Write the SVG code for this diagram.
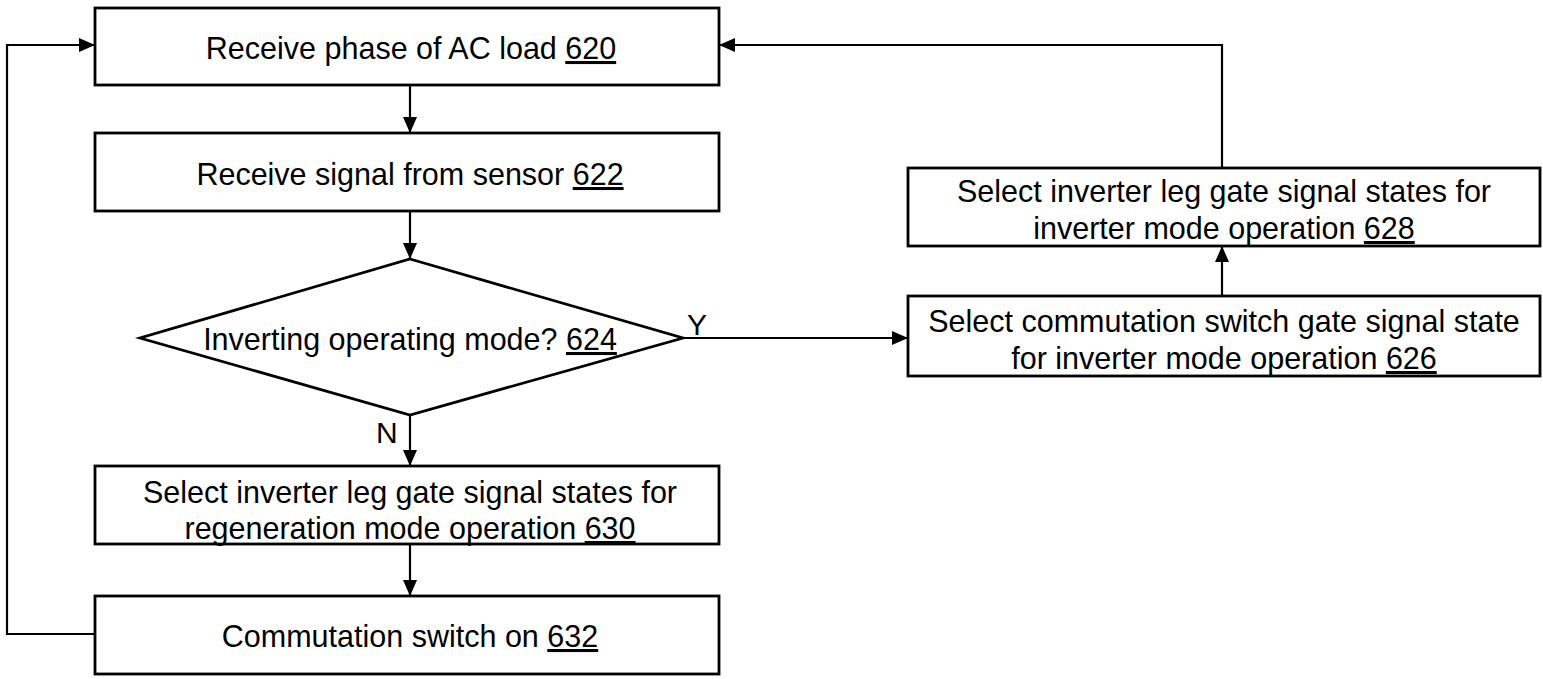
<svg xmlns="http://www.w3.org/2000/svg" width="1543" height="679" viewBox="0 0 1543 679">
<style>
.box{fill:#fff;stroke:#000;stroke-width:2.8}
.ln{fill:none;stroke:#000;stroke-width:2.2}
.t{font-family:"Liberation Sans",Arial,sans-serif;font-size:30.5px;fill:#000;text-anchor:middle}
.lbl{font-family:"Liberation Sans",Arial,sans-serif;font-size:30px;fill:#000}
.u{text-decoration:underline}
</style>
<defs>
<marker id="ah" viewBox="0 0 16 14" refX="16" refY="7" markerWidth="16" markerHeight="14" markerUnits="userSpaceOnUse" orient="auto">
<path d="M0,0 L16,7 L0,14 Z" fill="#000"/>
</marker>
</defs>
<rect width="1543" height="679" fill="#fff"/>
<g id="connectors">
<line class="ln" x1="410" y1="85" x2="410" y2="133" marker-end="url(#ah)"/>
<line class="ln" x1="410" y1="211" x2="410" y2="259" marker-end="url(#ah)"/>
<line class="ln" x1="683" y1="338" x2="908" y2="338" marker-end="url(#ah)"/>
<line class="ln" x1="1222" y1="296" x2="1222" y2="246" marker-end="url(#ah)"/>
<polyline class="ln" points="1222,168 1222,45 719,45" marker-end="url(#ah)"/>
<line class="ln" x1="410" y1="415" x2="410" y2="466" marker-end="url(#ah)"/>
<line class="ln" x1="410" y1="544" x2="410" y2="596" marker-end="url(#ah)"/>
<polyline class="ln" points="95,634 7,634 7,45 95,45" marker-end="url(#ah)"/>
<text class="lbl" x="687" y="335">Y</text>
<text class="lbl" x="376" y="443">N</text>
</g>
<g id="n620">
<rect class="box" x="95" y="8" width="624" height="77"/>
<text class="t" x="411" y="59">Receive phase of AC load <tspan class="u">620</tspan></text>
</g>
<g id="n622">
<rect class="box" x="95" y="133" width="624" height="78"/>
<text class="t" x="410" y="185">Receive signal from sensor <tspan class="u">622</tspan></text>
</g>
<g id="n624">
<polygon class="box" points="410,259 683,338 410,415 140,338"/>
<text class="t" x="410" y="350">Inverting operating mode? <tspan class="u">624</tspan></text>
</g>
<g id="n626">
<rect class="box" x="908" y="296" width="632" height="80"/>
<text class="t" x="1224" y="332">Select commutation switch gate signal state</text>
<text class="t" x="1224" y="369">for inverter mode operation <tspan class="u">626</tspan></text>
</g>
<g id="n628">
<rect class="box" x="908" y="168" width="632" height="78"/>
<text class="t" x="1224" y="202">Select inverter leg gate signal states for</text>
<text class="t" x="1224" y="239">inverter mode operation <tspan class="u">628</tspan></text>
</g>
<g id="n630">
<rect class="box" x="95" y="466" width="624" height="78"/>
<text class="t" x="410" y="503">Select inverter leg gate signal states for</text>
<text class="t" x="410" y="539">regeneration mode operation <tspan class="u">630</tspan></text>
</g>
<g id="n632">
<rect class="box" x="95" y="596" width="624" height="78"/>
<text class="t" x="410" y="647">Commutation switch on <tspan class="u">632</tspan></text>
</g>
</svg>
